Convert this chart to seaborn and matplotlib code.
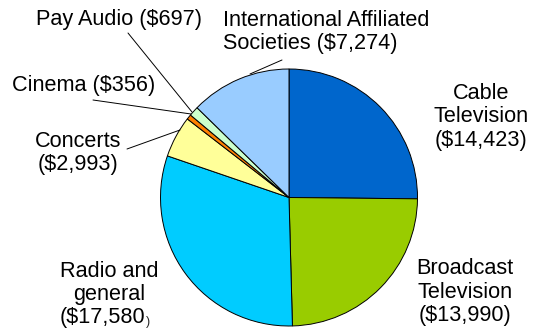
import matplotlib
matplotlib.use("Agg")
import matplotlib.pyplot as plt
import seaborn as sns

# Royalty distributions by category (thousands of dollars)
categories = ["Cable Television", "Broadcast Television", "Radio and general",
              "Concerts", "Cinema", "Pay Audio", "International Affiliated Societies"]
amounts = [14423, 13990, 17580, 2993, 356, 697, 7274]
colors = ["#0066CC", "#99CC00", "#00CCFF", "#FFFF99", "#FF8000", "#CCFFCC", "#99CCFF"]

sns.set_theme(style="white")
plt.rcParams["font.family"] = ["Liberation Sans", "DejaVu Sans"]

W, H = 534, 332
fig = plt.figure(figsize=(W / 100, H / 100), dpi=100)
ax = fig.add_axes([0, 0, 1, 1])


def Y(y):
    # pixel rows are measured from the top of the figure
    return H - y


ax.pie(amounts, colors=sns.color_palette(colors), startangle=90, counterclock=False,
       center=(289, Y(197.5)), radius=128.5,
       wedgeprops=dict(edgecolor="black", linewidth=0.7))
ax.set_xlim(0, W)
ax.set_ylim(0, H)
ax.set_aspect("equal")
ax.axis("off")


def money(v):
    return f"(${v:,})"


fs = 15.6
ls = 1.15
txt = dict(fontsize=fs, color="black", linespacing=ls)

# Cable Television
ax.text(481, Y(117), f"Cable\nTelevision\n{money(amounts[0])}",
        ha="center", va="center", multialignment="center", **txt)
# Broadcast Television
ax.text(465, Y(292), f"Broadcast\nTelevision\n{money(amounts[1])}",
        ha="center", va="center", multialignment="center", **txt)
# Radio and general, with its small closing parenthesis
ax.text(109, Y(283), "Radio and\ngeneral",
        ha="center", va="center", multialignment="center", **txt)
t = ax.text(60, Y(323), f"(${amounts[2]:,}", ha="left", va="baseline", **txt)
ax.annotate(")", xy=(1, 0), xycoords=t, xytext=(0.3, 0), textcoords="offset points",
            ha="left", va="bottom", fontsize=9)
# Concerts
ax.text(78, Y(153), f"Concerts\n{money(amounts[3])}",
        ha="center", va="center", multialignment="center", **txt)
# Cinema
ax.text(84, Y(86), f"Cinema {money(amounts[4])}", ha="center", va="center", **txt)
# Pay Audio
ax.text(119, Y(19), f"Pay Audio {money(amounts[5])}", ha="center", va="center", **txt)
# International Affiliated Societies
ax.text(223, Y(32), f"International Affiliated\nSocieties {money(amounts[6])}",
        ha="left", va="center", multialignment="left", **txt)

# Leader lines from labels to the thin wedges
leaders = [((128, 33), (192, 112)),
           ((93, 100), (191, 114)),
           ((127, 149), (180, 130)),
           ((282, 60), (250, 74))]
for (x0, y0), (x1, y1) in leaders:
    ax.annotate("", xy=(x1, Y(y1)), xytext=(x0, Y(y0)),
                arrowprops=dict(arrowstyle="-", color="black", linewidth=0.7,
                                shrinkA=0, shrinkB=0))

fig.savefig("out.png", dpi=100, facecolor="white")
